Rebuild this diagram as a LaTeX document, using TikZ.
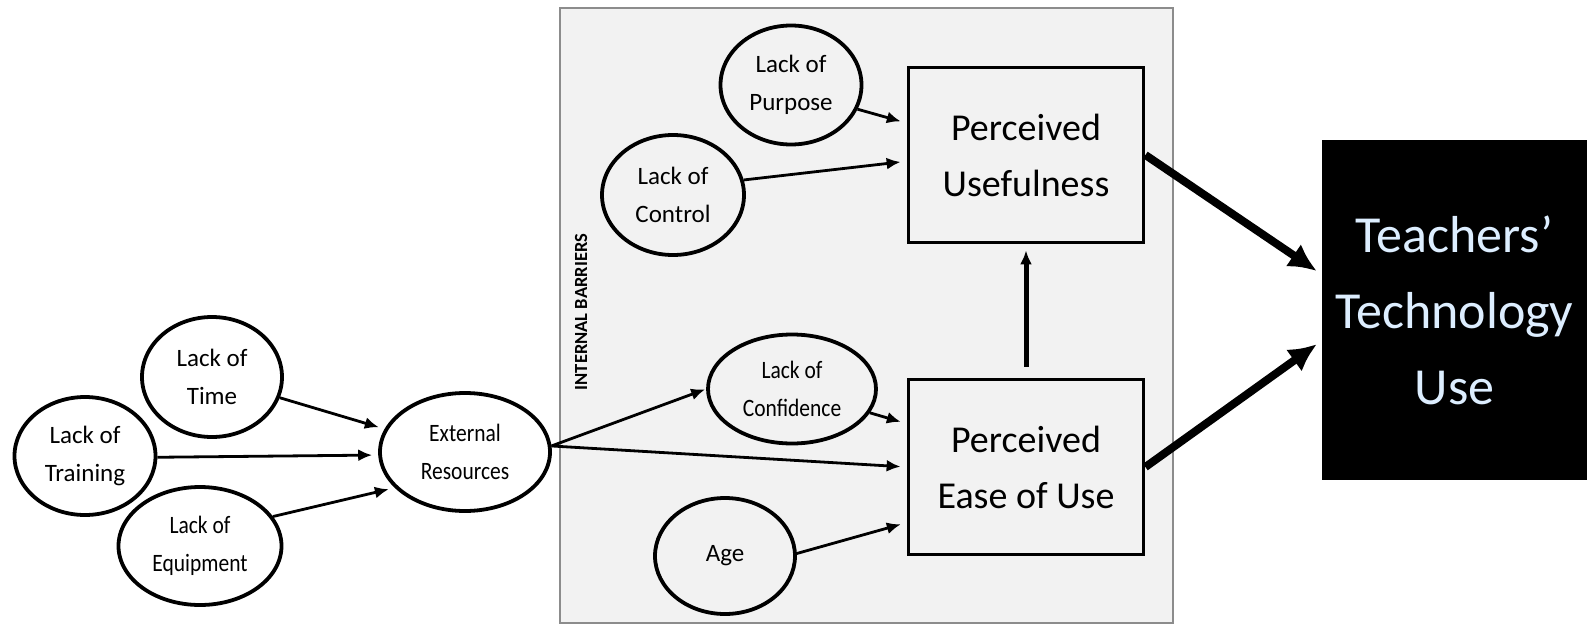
\documentclass[tikz,border=0pt]{standalone}
\usepackage{fontspec}
\setmainfont{Carlito}
\newfontfamily\narrowfont[FakeStretch=0.86]{Carlito}
\usetikzlibrary{shapes.geometric,arrows.meta}

\definecolor{panelgray}{HTML}{F2F2F2}
\definecolor{framegray}{HTML}{8C8C8C}
\definecolor{techblue}{HTML}{DDEEFF}

\tikzset{
  bubble/.style={draw, ellipse, line width=3.8pt, inner sep=0pt, align=center,
    font=\fontsize{25}{38}\selectfont},
  narrow/.style={font=\narrowfont\fontsize{25}{38}\selectfont},
  factor/.style={draw, rectangle, line width=3.8pt, minimum width=235pt,
    minimum height=175pt, align=center, font=\fontsize{38}{56}\selectfont},
  link/.style={-{Latex[length=14pt,width=12pt]}, line width=2.8pt, shorten >=6pt},
  mainlink/.style={-{Latex[length=28pt,width=27pt]}, line width=8pt, shorten >=6pt}
}

\begin{document}
\begin{tikzpicture}[x=1pt, y=-1pt]
        \useasboundingbox (0,0) rectangle (1587,624);
        % panel
        \draw[fill=panelgray, draw=framegray, line width=2.5pt] (560,8) rectangle (1173,623);
        \node[rotate=90, font=\bfseries\fontsize{18.5}{20}\selectfont] (barriers) at (581,312) {INTERNAL BARRIERS};
        % external barriers
        \node[bubble, minimum width=140pt, minimum height=120pt] (time) at (212,377) {Lack of\\Time};
        \node[bubble, minimum width=141pt, minimum height=118pt] (training) at (85,456) {Lack of\\Training};
        \node[bubble, narrow, minimum width=163pt, minimum height=118pt] (equipment) at (200,546) {Lack of\\Equipment};
        \node[bubble, narrow, minimum width=170pt, minimum height=118pt] (resources) at (465,452) {External\\Resources};
        % internal barriers
        \node[bubble, minimum width=141pt, minimum height=119pt] (purpose) at (791,85) {Lack of\\Purpose};
        \node[bubble, minimum width=142pt, minimum height=120pt] (control) at (673,195) {Lack of\\Control};
        \node[bubble, narrow, minimum width=168pt, minimum height=109pt] (confidence) at (792,389) {Lack of\\Confidence};
        \node[bubble, minimum width=140pt, minimum height=116pt] (age) at (725,556) {Age};
        % factors
        \node[factor] (useful) at (1026,155) {Perceived\\Usefulness};
        \node[factor] (ease) at (1026,467) {Perceived\\Ease of Use};
        \node[fill=black, minimum width=265pt, minimum height=340pt, text=techblue, align=center,
          font=\fontsize{52}{76}\selectfont] (use) at (1454.5,310) {Teachers’\\Technology\\Use};
        % lines
        \draw[link] (time.-17) -- (resources.164);
        \draw[link] (training.-1) -- (resources.182);
        \draw[link] (equipment.22) -- (resources.207);
        \draw[link, shorten >=1pt] (resources.4) -- (confidence.west);
        \draw[link] (resources.4) -- (ease.west);
        \draw[link] (confidence.-17) -- (ease.160);
        \draw[link] (age.2) -- (ease.205);
        \draw[link] (purpose.-20) -- (useful.165);
        \draw[link] (control.12) -- (useful.183);
        \draw[link, line width=5pt, shorten <=11pt] (ease.north) -- (useful.south);
        \draw[mainlink] (useful.east) -- (use.165);
        \draw[mainlink] (ease.east) -- (use.193);
      \end{tikzpicture}
\end{document}
